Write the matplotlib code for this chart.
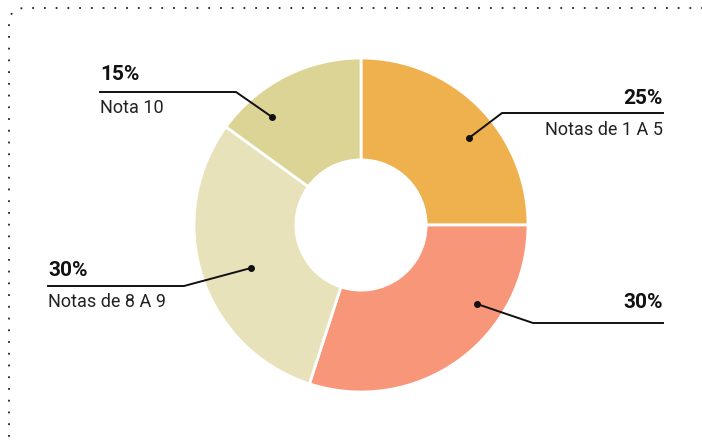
import numpy as np
import matplotlib.pyplot as plt
from matplotlib.patches import FancyBboxPatch

# data (clockwise from 12 o'clock)
shares = [25, 30, 30, 15]
pct_labels = ['25%', '30%', '30%', '15%']
names = ['Notas de 1 A 5', '', 'Notas de 8 A 9', 'Nota 10']
colors = ['#EFB04E', '#F8967A', '#E8E2BB', '#DBD494']

W, H = 702, 442
fig = plt.figure(figsize=(W / 100, H / 100), dpi=100)
ax = fig.add_axes([0, 0, 1, 1])
ax.set_xlim(0, W)
ax.set_ylim(0, H)
ax.set_aspect('equal')
ax.axis('off')

cx, cy, r = 361, H - 225, 167
ax.pie(shares, colors=colors, startangle=90, counterclock=False,
       center=(cx, cy), radius=r,
       wedgeprops=dict(width=r * 0.61, edgecolor='white', linewidth=2))
ax.set_xlim(0, W)
ax.set_ylim(0, H)

# dotted frame (rounded corner top-left)
frame = FancyBboxPatch((9, -60), 760, H - 8 + 60,
                       boxstyle='round,pad=0,rounding_size=16',
                       fill=False, linestyle=(0, (1, 5.5)), linewidth=1.3,
                       edgecolor='#222222')
ax.add_patch(frame)

font = ['Roboto', 'DejaVu Sans']

# label layout: (dot, elbow, line end, text x, align, pct y, name y)
labels = [
    ((469, 138), (502, 113), 663, 663, 'right', 98, 130),
    ((477, 304), (533, 323), 663, 663, 'right', 303, None),
    ((251, 268), (184, 286), 48, 48, 'left', 270, 302),
    ((272, 117), (236, 92), 100, 100, 'left', 75, 108),
]

for i, (dot, elbow, lend, tx, ha, py, ny) in enumerate(labels):
    d = (dot[0], H - dot[1])
    e = (elbow[0], H - elbow[1])
    ax.plot([d[0], e[0], lend], [d[1], e[1], e[1]], color='#111111', lw=1.4)
    ax.plot(*d, 'o', color='#111111', ms=4)
    ax.text(tx, H - py, pct_labels[i], ha=ha, va='center', fontsize=15,
            fontweight='bold', family=font, color='#111111')
    if ny is not None and names[i]:
        ax.text(tx, H - ny, names[i], ha=ha, va='center', fontsize=13,
                family=font, color='#222222')

fig.savefig('out.png', dpi=100)
